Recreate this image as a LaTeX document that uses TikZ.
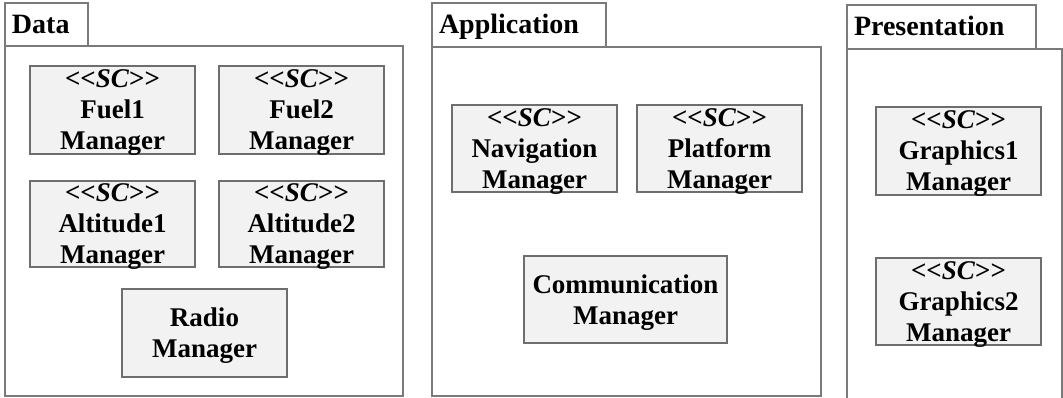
\documentclass[tikz,border=0pt]{standalone}
\usepackage{fontspec}
\setmainfont{Liberation Serif}[Ligatures=Common]
\definecolor{pkgline}{HTML}{7A7A7A}
\definecolor{boxline}{HTML}{6E6E6E}
\definecolor{boxfill}{HTML}{F2F2F2}
% stereotype line
\newcommand{\stereo}{{<}{<}\textit{SC}{>}{>}}
\begin{document}
\begin{tikzpicture}[x=1pt,y=-1pt,
  pkgbody/.style={draw=pkgline,line width=1.2pt,fill=white,rectangle,
    anchor=north west,inner sep=0pt,outer sep=0pt},
  pkgtab/.style={draw=pkgline,line width=1.2pt,fill=white,rectangle,
    anchor=north west,inner xsep=7pt,inner ysep=0pt,outer sep=0pt,
    text height=22pt,text depth=4pt,
    font=\fontsize{28}{32}\selectfont\bfseries},
  comp/.style={draw=boxline,line width=1.1pt,fill=boxfill,rectangle,
    anchor=north west,inner sep=0pt,outer sep=0pt,align=center,
    text depth=0pt,
    font=\fontsize{27}{31}\selectfont\bfseries},
]
\useasboundingbox (0,0) rectangle (1063,398);
\clip (0,0) rectangle (1063,398);

% Data package
\node[pkgbody,minimum width=398pt,minimum height=350pt] (databody) at (5,46) {};
\node[pkgtab,minimum width=83pt,minimum height=43pt,text width=69pt,align=left] (datatab) at (5,3) {Data};
\node[comp,minimum width=165pt,minimum height=88pt] (fuel1) at (30,66) {\stereo\\Fuel1\\Manager};
\node[comp,minimum width=165pt,minimum height=88pt] (fuel2) at (219,66) {\stereo\\Fuel2\\Manager};
\node[comp,minimum width=165pt,minimum height=86pt] (alt1) at (30,181) {\stereo\\Altitude1\\Manager};
\node[comp,minimum width=165pt,minimum height=86pt] (alt2) at (219,181) {\stereo\\Altitude2\\Manager};
\node[comp,minimum width=165pt,minimum height=88pt] (radio) at (122,289) {Radio\\Manager};

% Application package
\node[pkgbody,minimum width=389pt,minimum height=349pt] (appbody) at (432,47) {};
\node[pkgtab,minimum width=174pt,minimum height=44pt,text width=160pt,align=left] (apptab) at (432,3) {Application};
\node[comp,minimum width=165pt,minimum height=87pt] (nav) at (452,105) {\stereo\\Navigation\\Manager};
\node[comp,minimum width=165pt,minimum height=87pt] (plat) at (637,105) {\stereo\\Platform\\Manager};
\node[comp,minimum width=203pt,minimum height=87pt] (comm) at (524,256) {Communication\\Manager};

% Presentation package (runs past the lower edge)
\node[pkgbody,minimum width=215pt,minimum height=360pt] (presbody) at (847,49) {};
\node[pkgtab,minimum width=189pt,minimum height=44pt,text width=175pt,align=left] (prestab) at (847,5) {Presentation};
\node[comp,minimum width=165pt,minimum height=88pt] (gfx1) at (876,107) {\stereo\\Graphics1\\Manager};
\node[comp,minimum width=165pt,minimum height=87pt] (gfx2) at (876,258) {\stereo\\Graphics2\\Manager};
\end{tikzpicture}
\end{document}
